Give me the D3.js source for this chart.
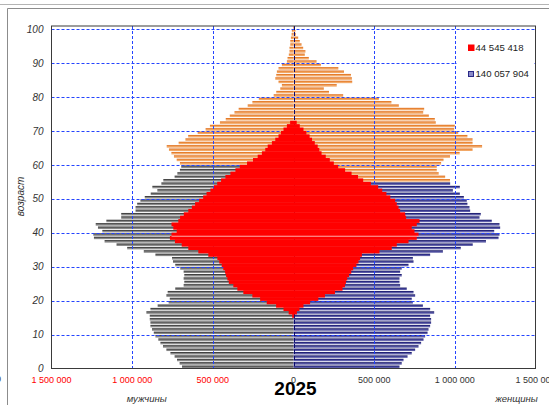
<!DOCTYPE html>
<html>
<head>
<meta charset="utf-8">
<script src="https://cdn.jsdelivr.net/npm/d3@7/dist/d3.min.js"></script>
<style>
  html, body { margin: 0; padding: 0; background: #fff; }
  svg { display: block; font-family: "Liberation Sans", Arial, sans-serif; }
</style>
</head>
<body>
<svg id="chart" width="549" height="405"></svg>
<script>
// population by single year of age, thousands of people, ages 0..100
const maleTotal = [
  691, 706, 722, 737, 763, 788, 809, 825, 838, 856,
  866, 877, 887, 887, 891, 891, 912, 887, 842, 774,
  767, 788, 780, 733, 681, 677, 681, 677, 681, 702,
  733, 747, 753, 856, 928, 1031, 1097, 1171, 1237, 1241,
  1185, 1212, 1226, 1160, 1068, 1068, 979, 979, 969, 949,
  922, 885, 844, 875, 819, 807, 737, 720, 704, 696,
  704, 724, 741, 757, 772, 786, 712, 670, 653, 594,
  545, 518, 456, 420, 395, 366, 340, 284, 255, 215,
  123, 107, 82, 72, 93, 113, 107, 103, 93, 72,
  41, 37, 29, 25, 25, 20, 20, 16, 12, 10,
  3
];
const femaleTotal = [
  657, 671, 682, 707, 733, 754, 775, 791, 806, 816,
  831, 837, 847, 853, 853, 847, 872, 847, 802, 740,
  733, 754, 744, 702, 661, 657, 657, 671, 661, 671,
  713, 744, 740, 847, 926, 1037, 1111, 1193, 1271, 1277,
  1244, 1281, 1277, 1229, 1153, 1161, 1095, 1091, 1078, 1074,
  1056, 1031, 988, 1031, 971, 970, 940, 900, 888, 888,
  915, 930, 970, 1030, 1110, 1169, 1110, 1110, 1078, 1021,
  996, 1000, 882, 876, 839, 804, 810, 653, 607, 529,
  308, 220, 188, 268, 364, 362, 356, 313, 278, 170,
  143, 95, 70, 74, 60, 50, 39, 29, 15, 12,
  8
];
// highlighted group (red), ages 15..72
const coreAges = d3.range(15, 73);
const maleCore = [
  8, 30, 62, 108, 166, 207, 255, 311, 348, 373,
  401, 410, 418, 424, 435, 445, 460, 472, 528, 590,
  652, 693, 735, 766, 756, 724, 745, 756, 714, 703,
  680, 652, 630, 610, 585, 560, 539, 515, 494, 473,
  449, 422, 391, 360, 333, 288, 251, 222, 196, 175,
  160, 134, 113, 93, 78, 62, 41, 21
];
const femaleCore = [
  4, 21, 37, 62, 103, 154, 195, 257, 304, 319,
  325, 333, 345, 358, 370, 390, 403, 413, 424, 533,
  609, 640, 713, 764, 775, 750, 733, 764, 781, 698,
  692, 661, 651, 640, 630, 600, 576, 550, 525, 480,
  432, 400, 360, 320, 277, 250, 225, 200, 174, 160,
  150, 132, 115, 100, 80, 62, 39, 20
];
const maleRetireAge = 60;
const femaleRetireAge = 55;
const legendItems = ["44 545 418", "140 057 904"];
const xTicks = [-1500000, -1000000, -500000, 0, 500000, 1000000, 1500000];
const yTicks = d3.range(0, 101, 10);
const yearLabel = "2025";

const K = 1000;
const svg = d3.select("#chart");
const x = d3.scaleLinear().domain([-1500000, 1500000]).range([51.5, 535.5]);
const y = d3.scaleLinear().domain([0, 101]).range([368.5, 26]);
const band = y(0) - y(1);
const fmt = (v) => d3.format(",")(Math.abs(v)).replace(/,/g, " ");

// gradients for the shaded bars
const defs = svg.append("defs");
function grad(id, stops) {
  const g = defs.append("linearGradient").attr("id", id)
    .attr("x1", 0).attr("y1", 0).attr("x2", 0).attr("y2", 1);
  stops.forEach(([o, c]) => g.append("stop").attr("offset", o).attr("stop-color", c));
}
grad("g-grey", [[0, "#262626"], [0.35, "#555"], [0.65, "#8e8e8e"], [1, "#777"]]);
grad("g-orange", [[0, "#dc6410"], [0.35, "#e98a3c"], [0.65, "#f4ae70"], [1, "#ee9a52"]]);
grad("g-blue", [[0, "#10105a"], [0.35, "#2e2e86"], [0.65, "#6464ac"], [1, "#4c4c9c"]]);

// outer frame
svg.append("line").attr("x1", 0).attr("x2", 549).attr("y1", 4.5).attr("y2", 4.5)
  .attr("stroke", "#b4b4b4");
svg.append("line").attr("x1", 7.5).attr("x2", 549).attr("y1", 8.5).attr("y2", 8.5)
  .attr("stroke", "#8c8c8c");
svg.append("line").attr("x1", 7.5).attr("x2", 7.5).attr("y1", 8.5).attr("y2", 405)
  .attr("stroke", "#8c8c8c");
svg.append("text").attr("x", -1.5).attr("y", 379).attr("dy", "0.35em")
  .attr("text-anchor", "middle").attr("font-size", 9).attr("fill", "#333").text("0");

// main bars
const rows = d3.range(0, 101).map((a) => ({ age: a, m: maleTotal[a] * K, f: femaleTotal[a] * K }));
const barTop = (a) => y(a + 1) + 0.45;
const barH = band - 0.95;

svg.append("g").selectAll("rect").data(rows).join("rect")
  .attr("x", (d) => x(-d.m)).attr("width", (d) => x(0) - x(-d.m))
  .attr("y", (d) => barTop(d.age)).attr("height", barH)
  .attr("fill", (d) => d.age >= maleRetireAge ? "url(#g-orange)" : "url(#g-grey)");

svg.append("g").selectAll("rect").data(rows).join("rect")
  .attr("x", x(0)).attr("width", (d) => x(d.f) - x(0))
  .attr("y", (d) => barTop(d.age)).attr("height", barH)
  .attr("fill", (d) => d.age >= femaleRetireAge ? "url(#g-orange)" : "url(#g-blue)");

// gridlines
const grid = svg.append("g").attr("stroke", "#2444ff").attr("stroke-width", 1)
  .attr("stroke-dasharray", "3,2");
grid.selectAll("line.h").data(yTicks.filter((t) => t > 0)).join("line")
  .attr("class", "h").attr("x1", x(-1500000)).attr("x2", x(1500000))
  .attr("y1", (d) => Math.round(y(d)) + 0.5).attr("y2", (d) => Math.round(y(d)) + 0.5);
grid.selectAll("line.v").data(xTicks.filter((t) => Math.abs(t) > 0 && Math.abs(t) < 1500000)).join("line")
  .attr("class", "v").attr("y1", y(101)).attr("y2", y(0))
  .attr("x1", (d) => Math.round(x(d)) + 0.5).attr("x2", (d) => Math.round(x(d)) + 0.5);
svg.append("line").attr("x1", Math.round(x(0)) + 0.5).attr("x2", Math.round(x(0)) + 0.5)
  .attr("y1", y(101)).attr("y2", y(0)).attr("stroke", "#0a0a70")
  .attr("stroke-dasharray", "4,2");

// highlighted group, drawn over the grid
const core = coreAges.map((a, i) => ({ age: a, m: maleCore[i] * K, f: femaleCore[i] * K }));
svg.append("g").attr("fill", "#ff0000").selectAll("rect").data(core).join("rect")
  .attr("x", (d) => x(-d.m)).attr("width", (d) => x(d.f) - x(-d.m))
  .attr("y", (d) => y(d.age + 1) - 0.2).attr("height", band + 0.4);
const seam = core.find((d) => d.age === 39);
svg.append("line").attr("x1", x(-seam.m)).attr("x2", x(seam.f))
  .attr("y1", y(39)).attr("y2", y(39)).attr("stroke", "#ffd6d6").attr("stroke-width", 0.8);

// plot border
svg.append("rect").attr("x", x(-1500000)).attr("y", y(101))
  .attr("width", x(1500000) - x(-1500000)).attr("height", y(0) - y(101))
  .attr("fill", "none").attr("stroke", "#3a3a3a").attr("stroke-width", 1);

// legend
svg.append("rect").attr("x", 457).attr("y", 33).attr("width", 77).attr("height", 61).attr("fill", "#fff");
svg.append("rect").attr("x", 468).attr("y", 44.5).attr("width", 6.5).attr("height", 6.5).attr("fill", "#ff0000");
svg.append("rect").attr("x", 468.5).attr("y", 71.5).attr("width", 5).attr("height", 5)
  .attr("fill", "#8c8cc8").attr("stroke", "#2a2a88");
svg.selectAll("text.leg").data(legendItems).join("text").attr("class", "leg")
  .attr("x", 475.5).attr("y", (d, i) => i === 0 ? 47.8 : 74)
  .attr("dy", "0.35em").attr("font-size", 9.6).attr("fill", "#222").text((d) => d);

// tick labels
svg.selectAll("text.yt").data(yTicks).join("text").attr("class", "yt")
  .attr("x", 43.5).attr("y", (d) => y(d)).attr("dy", "0.35em")
  .attr("text-anchor", "end").attr("font-size", 10).attr("font-style", "italic")
  .attr("fill", "#333").text((d) => d);
svg.selectAll("text.xt").data(xTicks).join("text").attr("class", "xt")
  .attr("x", (d) => x(d)).attr("y", 379.5).attr("dy", "0.35em")
  .attr("text-anchor", "middle").attr("font-size", 9)
  .attr("fill", (d) => d < 0 ? "#ff0000" : "#333").text(fmt);

// titles
svg.append("text").attr("x", 295.5).attr("y", 388.5).attr("dy", "0.35em")
  .attr("text-anchor", "middle").attr("font-size", 19).attr("font-weight", "bold")
  .attr("fill", "#000").text(yearLabel);
svg.append("text").attr("x", 146.7).attr("y", 399).attr("dy", "0.35em")
  .attr("text-anchor", "middle").attr("font-size", 9.5).attr("font-style", "italic")
  .attr("fill", "#333").text("мужчины");
svg.append("text").attr("x", 516.5).attr("y", 399).attr("dy", "0.35em")
  .attr("text-anchor", "middle").attr("font-size", 9.5).attr("font-style", "italic")
  .attr("fill", "#333").text("женщины");
svg.append("text").attr("transform", "translate(20,196.5) rotate(-90)").attr("dy", "0.35em")
  .attr("text-anchor", "middle").attr("font-size", 10).attr("font-style", "italic")
  .attr("fill", "#333").text("возраст");
</script>
</body>
</html>
